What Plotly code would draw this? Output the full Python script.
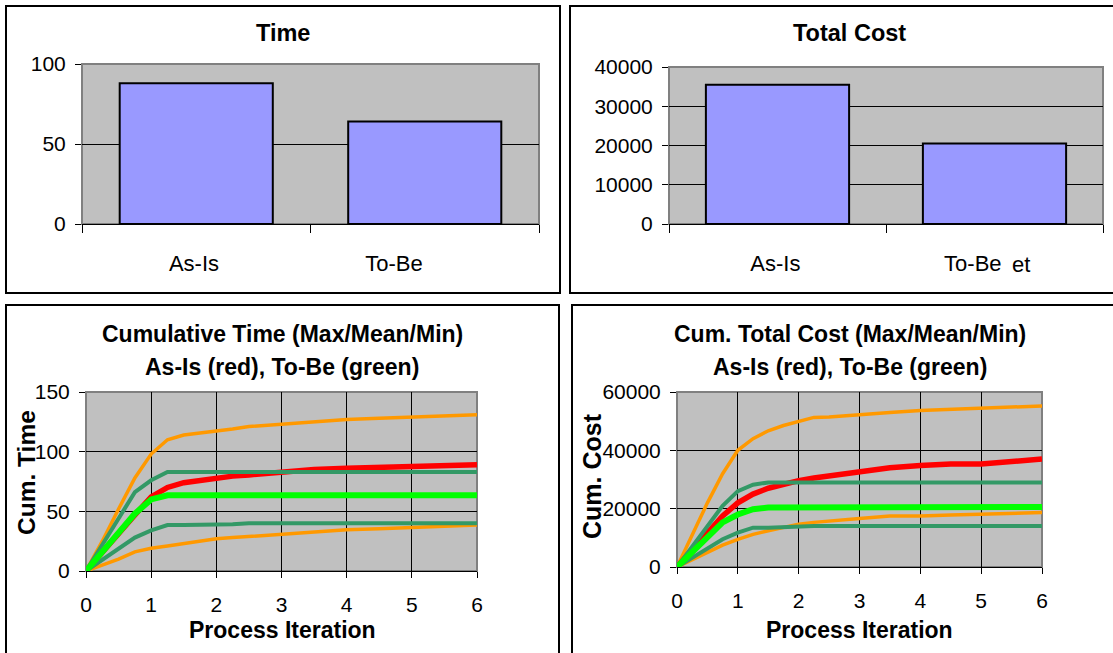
import plotly.graph_objects as go

W, H = 1113, 653
FONT = "Liberation Sans, Arial, sans-serif"

# ---------------- data ----------------
categories = ["As-Is", "To-Be"]
time_totals = [88, 64]
cost_totals = [35500, 20500]

iterations = [0, 0.25, 0.5, 0.75, 1, 1.25, 1.5, 1.75, 2, 2.25, 2.5, 3, 3.5, 4, 4.5, 5, 5.5, 6]

time_asis_max = [0, 25, 52, 78, 98, 110, 114, 115.5, 117, 119, 121, 123, 125, 127, 128, 129, 130, 131]
time_asis_min = [0, 5, 10, 16, 19, 21, 23, 25, 27, 28, 29, 31, 33, 34.5, 35.5, 36.5, 37.5, 38.5]
time_asis_mean = [0, 16, 32, 47, 62, 70, 74, 76, 78, 79.5, 80.5, 83, 85, 86, 87, 88, 88.5, 89]
time_tobe_max = [0, 22, 44, 66, 76, 83, 83, 83, 83, 83, 83, 83, 83, 83, 83, 83, 83, 83]
time_tobe_min = [0, 9, 18, 28, 34, 38.5, 38.5, 38.5, 38.5, 39.2, 40, 40, 40, 40, 40, 40, 40, 40]
time_tobe_mean = [0, 16, 32, 48, 60, 63.5, 63.5, 63.5, 63.5, 63.5, 63.5, 63.5, 63.5, 63.5, 63.5, 63.5, 63.5, 63.5]

cost_asis_max = [0, 11000, 22000, 32000, 40000, 44000, 46700, 48500, 50000, 51300, 51400, 52300, 53000, 53700, 54000, 54300, 54700, 55200]
cost_asis_min = [0, 2500, 5000, 7500, 9500, 11200, 12400, 13600, 14700, 15300, 15800, 16600, 17500, 17500, 17800, 18100, 18400, 18700]
cost_asis_mean = [0, 6000, 12000, 17500, 22000, 25000, 27000, 28500, 29600, 30500, 31200, 32500, 34000, 34800, 35300, 35300, 36000, 37000]
cost_tobe_max = [0, 7000, 14000, 21000, 26000, 28200, 29000, 29000, 29000, 29000, 29000, 29000, 29000, 29000, 29000, 29000, 29000, 29000]
cost_tobe_min = [0, 3200, 6400, 9500, 11800, 13500, 13500, 13800, 14100, 14100, 14100, 14100, 14100, 14100, 14100, 14100, 14100, 14100]
cost_tobe_mean = [0, 5000, 10000, 15300, 18000, 19800, 20400, 20400, 20400, 20400, 20400, 20400, 20400, 20400, 20400, 20400, 20500, 20600]

time_bar_ticks = [0, 50, 100]
cost_bar_ticks = [0, 10000, 20000, 30000, 40000]
time_ticks = [0, 50, 100, 150]
cost_ticks = [0, 20000, 40000, 60000]
iter_ticks = [0, 1, 2, 3, 4, 5, 6]

# ---------------- helpers ----------------
def px(x):
    return x / W

def py(y):
    return 1 - y / H

def dom_x(a, b):
    return [px(a), px(b)]

def dom_y(top, bottom):
    return [py(bottom), py(top)]

ORANGE = "#FF9900"
DKGREEN = "#339966"
RED = "#FF0000"
LIME = "#00FF00"

cat_pos = list(range(len(categories)))
cat_bounds = [p - 0.5 for p in cat_pos] + [cat_pos[-1] + 0.5]

fig = go.Figure()

# bars
fig.add_trace(go.Bar(x=cat_pos, y=time_totals, xaxis="x", yaxis="y", width=0.67,
                     marker=dict(color="#9999FF", line=dict(color="black", width=2)),
                     showlegend=False, hoverinfo="skip"))
fig.add_trace(go.Bar(x=cat_pos, y=cost_totals, xaxis="x2", yaxis="y2", width=0.66,
                     marker=dict(color="#9999FF", line=dict(color="black", width=2)),
                     showlegend=False, hoverinfo="skip"))

def add_lines(series, xa, ya):
    for ys, col, w in series:
        fig.add_trace(go.Scatter(x=iterations, y=ys, mode="lines", xaxis=xa, yaxis=ya,
                                 line=dict(color=col, width=w), showlegend=False,
                                 hoverinfo="skip"))

add_lines([(time_asis_max, ORANGE, 3.5), (time_asis_min, ORANGE, 3.5),
           (time_asis_mean, RED, 5.5), (time_tobe_max, DKGREEN, 4),
           (time_tobe_min, DKGREEN, 4), (time_tobe_mean, LIME, 6)], "x3", "y3")
add_lines([(cost_asis_max, ORANGE, 3.5), (cost_asis_min, ORANGE, 3.5),
           (cost_asis_mean, RED, 5.5), (cost_tobe_max, DKGREEN, 4),
           (cost_tobe_min, DKGREEN, 4), (cost_tobe_mean, LIME, 6)], "x4", "y4")

def tf(size):
    return dict(family=FONT, size=size, color="black")

def cat_xaxis(dom, anchor, label_shift):
    # labels as major ticks (no marks), boundary tick marks as minor ticks
    return dict(domain=dom, anchor=anchor, range=[cat_bounds[0], cat_bounds[-1]],
                tickmode="array",
                tickvals=[cat_pos[0] - 0.01, cat_pos[1] - label_shift],
                ticktext=categories,
                showline=True, linecolor="black", linewidth=1,
                ticks="", tickfont=tf(22), showgrid=False, zeroline=False,
                automargin=False,
                minor=dict(tickmode="array", tickvals=cat_bounds, ticks="outside",
                           ticklen=8, tickcolor="black", tickwidth=1, showgrid=False),
                ticklabelstandoff=20, fixedrange=True)

def val_yaxis(dom, anchor, rng, tv, grid, size=21):
    return dict(domain=dom, anchor=anchor, range=rng, tickmode="array", tickvals=tv,
                ticktext=[str(v) for v in tv],
                ticks="outside", ticklen=6, tickcolor="black", tickfont=tf(size),
                showgrid=False, zeroline=False, showline=False, automargin=False,
                minor=dict(tickmode="array", tickvals=grid, showgrid=True,
                           gridcolor="black", gridwidth=1, ticks=""),
                ticklabelstandoff=5, fixedrange=True)

def it_xaxis(dom, anchor):
    return dict(domain=dom, anchor=anchor, range=[0, 6], tickmode="array", tickvals=iter_ticks,
                ticktext=[str(v) for v in iter_ticks],
                showline=True, linecolor="black", linewidth=1,
                ticks="outside", ticklen=6, tickcolor="black",
                tickfont=tf(21), showgrid=False, zeroline=False, automargin=False,
                minor=dict(tickmode="array", tickvals=[1, 2, 3, 4, 5], showgrid=True,
                           gridcolor="black", gridwidth=1, ticks=""),
                ticklabelstandoff=9, fixedrange=True)

TL = (82, 539, 64, 224)
TR = (669, 1103, 67, 224)
BL = (86, 477, 392, 571)
BR = (677, 1042, 392, 567)

lay = dict(
    width=W, height=H, margin=dict(l=0, r=0, t=0, b=0, autoexpand=False),
    paper_bgcolor="white", plot_bgcolor="rgba(0,0,0,0)",
    font=dict(family=FONT, color="black"),
    xaxis=cat_xaxis(dom_x(TL[0], TL[1]), "y", 0.135),
    yaxis=val_yaxis(dom_y(TL[2], TL[3]), "x", [0, 100], time_bar_ticks, [50]),
    xaxis2=cat_xaxis(dom_x(TR[0], TR[1]), "y2", 0.10),
    yaxis2=val_yaxis(dom_y(TR[2], TR[3]), "x2", [0, 40000], cost_bar_ticks,
                     [10000, 20000, 30000]),
    xaxis3=it_xaxis(dom_x(BL[0], BL[1]), "y3"),
    yaxis3=val_yaxis(dom_y(BL[2], BL[3]), "x3", [0, 150], time_ticks, [50, 100]),
    xaxis4=it_xaxis(dom_x(BR[0], BR[1]), "y4"),
    yaxis4=val_yaxis(dom_y(BR[2], BR[3]), "x4", [0, 60000], cost_ticks, [20000, 40000]),
)
fig.update_layout(**lay)

shapes = []
# plot area backgrounds
for xr, yr in [("x", "y"), ("x2", "y2"), ("x3", "y3"), ("x4", "y4")]:
    shapes.append(dict(type="rect", xref=xr + " domain", yref=yr + " domain",
                       x0=0, x1=1, y0=0, y1=1, fillcolor="#C0C0C0",
                       line=dict(color="#808080", width=2), layer="below"))
# panel frames
for x0, x1, y0, y1 in [(6, 560, 6, 293), (570, 1130, 6, 293), (6, 559, 305, 670), (572, 1130, 305, 670)]:
    shapes.append(dict(type="rect", xref="paper", yref="paper",
                       x0=px(x0), x1=px(x1), y0=py(y1), y1=py(y0),
                       line=dict(color="black", width=2), fillcolor="rgba(0,0,0,0)",
                       layer="above"))
fig.update_layout(shapes=shapes)

def ann(text, x, y, size, bold=True, angle=0):
    return dict(text=("<b>%s</b>" % text) if bold else text, x=px(x), y=py(y),
                xref="paper", yref="paper", xanchor="center", yanchor="middle",
                showarrow=False, textangle=angle,
                font=dict(family=FONT, size=size, color="black"))

annotations = [
    ann("Time", 283, 33, 23.5),
    ann("Total Cost", 849, 33, 23.5),
    ann("Cumulative Time (Max/Mean/Min)", 282, 334, 23),
    ann("As-Is (red), To-Be (green)", 282, 367, 23),
    ann("Cum. Total Cost (Max/Mean/Min)", 850, 334, 23),
    ann("As-Is (red), To-Be (green)", 850, 367, 23),
    ann("Process Iteration", 282, 630, 23),
    ann("Process Iteration", 859, 630, 23),
    ann("Cum. Time", 27, 473, 24.5, angle=-90),
    ann("Cum. Cost", 592, 476, 25, angle=-90),
    ann("et", 1021, 264, 22, bold=False),
]
fig.update_layout(annotations=annotations)

fig.write_html("out.html", config={"displayModeBar": False, "staticPlot": True},
               post_script="document.body.style.margin='0';document.body.style.padding='0';document.body.style.overflow='hidden';")
